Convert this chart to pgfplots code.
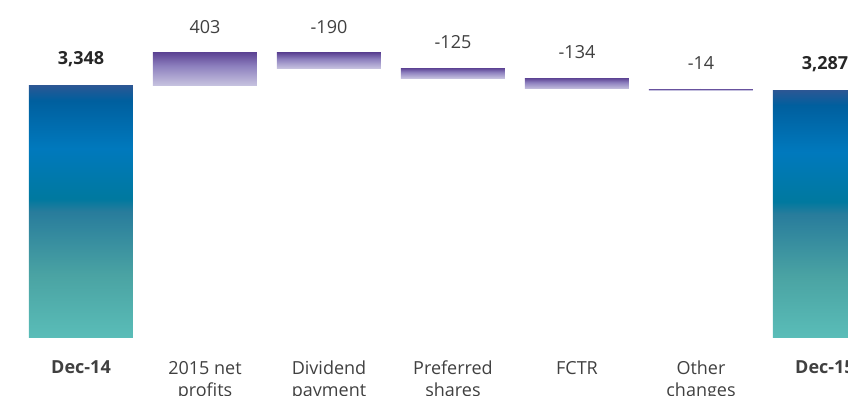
\documentclass[border=0pt]{standalone}
\usepackage{pgfplots}
\pgfplotsset{compat=1.18}
\usepackage{pgfplotstable}
\usepackage{fontspec}
\setmainfont{Open Sans}

\definecolor{txt}{HTML}{404040}
\definecolor{txtb}{HTML}{262626}
\definecolor{tA}{HTML}{2C5794}
\definecolor{tB}{HTML}{005F9E}
\definecolor{tC}{HTML}{0079BD}
\definecolor{tD}{HTML}{00799F}
\definecolor{tE}{HTML}{287C9C}
\definecolor{tF}{HTML}{4AA3A3}
\definecolor{tG}{HTML}{5ABDB8}
\definecolor{pA}{HTML}{5E4595}
\definecolor{pB}{HTML}{8D80BE}
\definecolor{pC}{HTML}{C6C2DF}

\pgfdeclareverticalshading{totals}{100bp}{%
  color(0bp)=(tG); color(25bp)=(tG); color(37.5bp)=(tF); color(50bp)=(tE);
  color(52.5bp)=(tD); color(62.5bp)=(tC); color(72bp)=(tB); color(75bp)=(tA); color(100bp)=(tA)}
\pgfdeclareverticalshading{purp}{100bp}{%
  color(0bp)=(pC); color(25bp)=(pC); color(55bp)=(pB); color(75bp)=(pA); color(100bp)=(pA)}

% label positions (top of each change bar) and texts
\pgfplotstableread{
x top label
1 3751 403
2 3751 -190
3 3561 -125
4 3436 -134
5 3302 -14
}\deltalabels

\pgfplotsset{
  wf/.style={
    at={(0pt,29pt)}, anchor=south west,
    scale only axis, width=424pt, height=169pt,
    xmin=-0.6532, xmax=6.1855, ymin=189, ymax=4413,
    enlargelimits=false,
    axis line style={draw=none},
    major tick length=0pt,
    ytick=\empty,
    bar width=52pt,
  },
  wfd/.style={wf, ybar stacked, xtick=\empty},
  basebar/.style={draw=none, fill=none, forget plot},
  chgbar/.style={draw=none, shade, shading=purp},
}

\begin{document}
\begin{tikzpicture}[x=1pt,y=1pt]
\path[use as bounding box, clip] (0,0) rectangle (424,198);
% totals
\begin{axis}[wf, ybar,
    xtick={0,1,2,3,4,5,6},
    xticklabels={\textbf{Dec-14},{2015 net\\profits},{Dividend\\payment},{Preferred\\shares},{FCTR},{Other\\changes},\textbf{Dec-15}},
    xticklabel style={align=center, font=\fontsize{9}{11}\selectfont, text=txt, yshift=-8pt},
    nodes near coords,
    every node near coord/.append style={anchor=south, yshift=5.5pt, font=\fontsize{9}{11}\selectfont\bfseries, text=txtb},
    point meta=explicit symbolic,
  ]
  \addplot[bar shift=0pt, draw=none, shade, shading=totals] coordinates {(0,3348) [3,348]};
  \addplot[bar shift=0pt, draw=none, shade, shading=totals] coordinates {(6,3287) [3,287]};
\end{axis}
% change bars (invisible base + visible change)
\begin{axis}[wfd]
  \addplot[basebar] coordinates {(1,3348)};
  \addplot[chgbar] coordinates {(1,403)};
\end{axis}
\begin{axis}[wfd]
  \addplot[basebar] coordinates {(2,3561)};
  \addplot[chgbar] coordinates {(2,190)};
\end{axis}
\begin{axis}[wfd]
  \addplot[basebar] coordinates {(3,3436)};
  \addplot[chgbar] coordinates {(3,125)};
\end{axis}
\begin{axis}[wfd]
  \addplot[basebar] coordinates {(4,3302)};
  \addplot[chgbar] coordinates {(4,134)};
\end{axis}
\begin{axis}[wfd]
  \addplot[basebar] coordinates {(5,3288)};
  \addplot[chgbar] coordinates {(5,14)};
\end{axis}
% change labels
\begin{axis}[wf, xtick=\empty]
  \addplot[only marks, mark=*, mark size=0pt, mark options={draw=none, fill=none},
    nodes near coords, point meta=explicit symbolic,
    every node near coord/.append style={anchor=south, yshift=6.2pt, font=\fontsize{9}{11}\selectfont, text=txt}]
    table[x=x, y=top, meta=label]{\deltalabels};
\end{axis}
\end{tikzpicture}
\end{document}
